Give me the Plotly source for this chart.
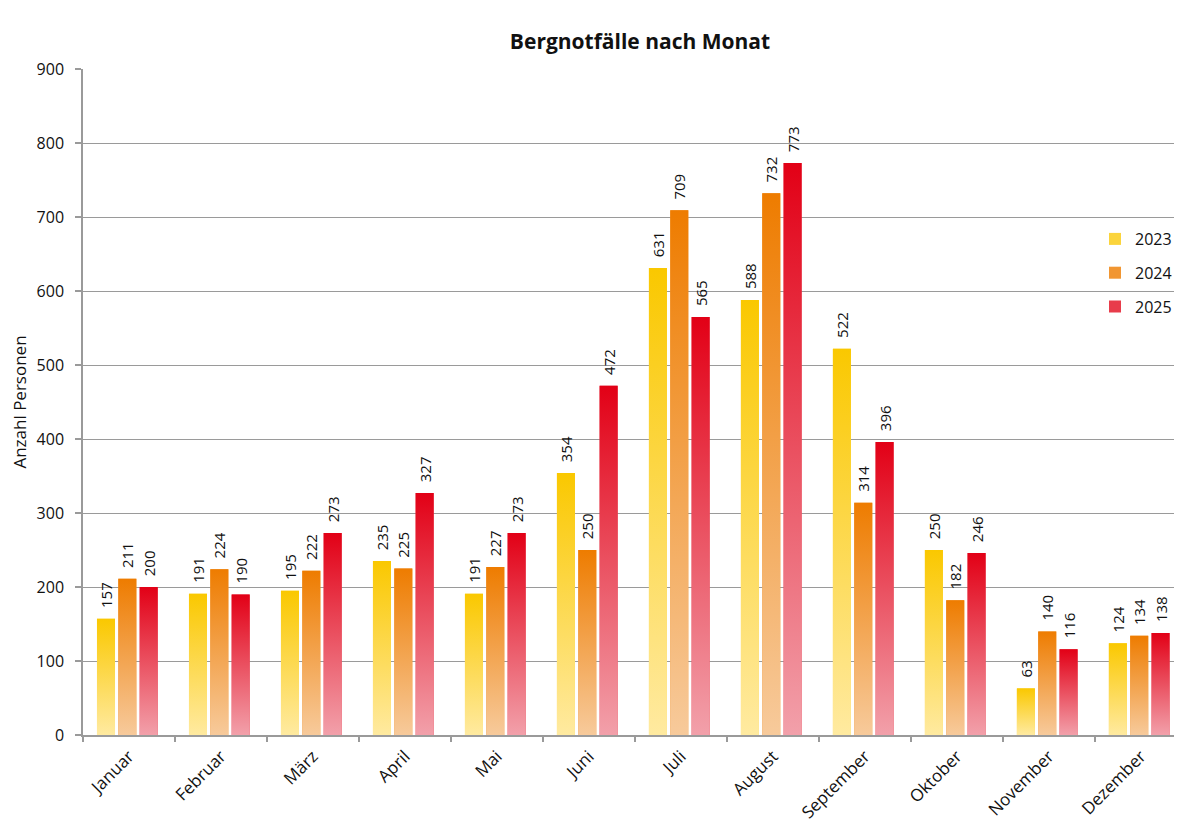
import plotly.graph_objects as go

months = ['Januar', 'Februar', 'März', 'April', 'Mai', 'Juni', 'Juli',
          'August', 'September', 'Oktober', 'November', 'Dezember']
years = ['2023', '2024', '2025']
v2023 = [157, 191, 195, 235, 191, 354, 631, 588, 522, 250, 63, 124]
v2024 = [211, 224, 222, 225, 227, 250, 709, 732, 314, 182, 140, 134]
v2025 = [200, 190, 273, 327, 273, 472, 565, 773, 396, 246, 116, 138]
series = [v2023, v2024, v2025]

# top colour, bottom colour, legend colour
colors = [
    ('rgb(250,200,0)', 'rgb(255,234,160)', 'rgb(251,212,60)'),
    ('rgb(238,124,0)', 'rgb(247,202,155)', 'rgb(241,150,50)'),
    ('rgb(226,0,22)', 'rgb(242,160,170)', 'rgb(232,60,75)'),
]

bar_w = 0.196
slot = 0.232
start = -0.348
font = 'Open Sans, sans-serif'
grey = '#9a9a9a'

fig = go.Figure()

# bars (legend + value labels)
for k, (year, vals) in enumerate(zip(years, series)):
    fig.add_trace(go.Bar(
        x=list(range(len(months))), y=vals, name=year,
        width=bar_w, offset=start + k * slot,
        marker=dict(color=colors[k][2], line=dict(width=0)),
        text=['\u00a0\u00a0' + str(v) for v in vals], textposition='outside',
        textangle=-90, constraintext='none',
        textfont=dict(size=15, color='#111', family=font),
        cliponaxis=False, legendgroup=year,
    ))

# gradient fill on top of each bar
for k, (year, vals) in enumerate(zip(years, series)):
    top, bottom, _ = colors[k]
    for i, v in enumerate(vals):
        x0 = i + start + k * slot
        x1 = x0 + bar_w
        fig.add_trace(go.Scatter(
            x=[x0, x1, x1, x0, x0], y=[0, 0, v, v, 0],
            mode='lines', line=dict(width=0), fill='toself',
            fillgradient=dict(type='vertical', colorscale=[[0, bottom], [1, top]]),
            showlegend=False, hoverinfo='skip', legendgroup=year,
        ))

# dummy trace for the boundary-tick axis
fig.add_trace(go.Scatter(x=[None], y=[None], xaxis='x2', showlegend=False))

fig.update_layout(
    width=1177, height=828,
    paper_bgcolor='white', plot_bgcolor='white',
    barmode='overlay',
    margin=dict(l=83, r=0, t=69, b=93),
    font=dict(family=font, size=15, color='#111'),
    title=dict(text='<b>Bergnotfälle nach Monat</b>', x=640 / 1177, xref='container',
               y=1 - 42 / 828, yref='container', xanchor='center', yanchor='middle',
               font=dict(size=21, family=font, color='#111')),
    xaxis=dict(range=[-0.5, 11.36], tickvals=list(range(len(months))), ticktext=months,
               tickangle=-45, ticks='', showgrid=False, zeroline=False,
               showline=True, linecolor=grey, linewidth=1.5,
               tickfont=dict(size=17), ticklabelstandoff=3, automargin=False),
    xaxis2=dict(overlaying='x', matches='x', anchor='y', side='bottom',
                tickvals=[i - 0.5 for i in range(len(months) + 1)],
                ticks='outside', ticklen=6, tickcolor=grey, tickwidth=1.5,
                showticklabels=False, showgrid=False, zeroline=False, showline=False),
    yaxis=dict(range=[0, 900], dtick=100, showgrid=True, gridcolor=grey, gridwidth=1,
               showline=True, linecolor=grey, linewidth=1.5, zeroline=False,
               ticks='outside', ticklen=6, tickcolor=grey, tickwidth=1.5,
               ticklabelstandoff=8, tickfont=dict(size=16), automargin=False,
               title=dict(text='Anzahl Personen', font=dict(size=17), standoff=6)),
    legend=dict(x=(1098 - 83) / 1094, y=(735 - 222) / 666,
                xanchor='left', yanchor='top', bgcolor='rgba(0,0,0,0)',
                font=dict(size=16), tracegroupgap=10, itemwidth=30),
)

fig.write_html('out.html', config={'displayModeBar': False},
               post_script="document.body.style.margin='0';")
